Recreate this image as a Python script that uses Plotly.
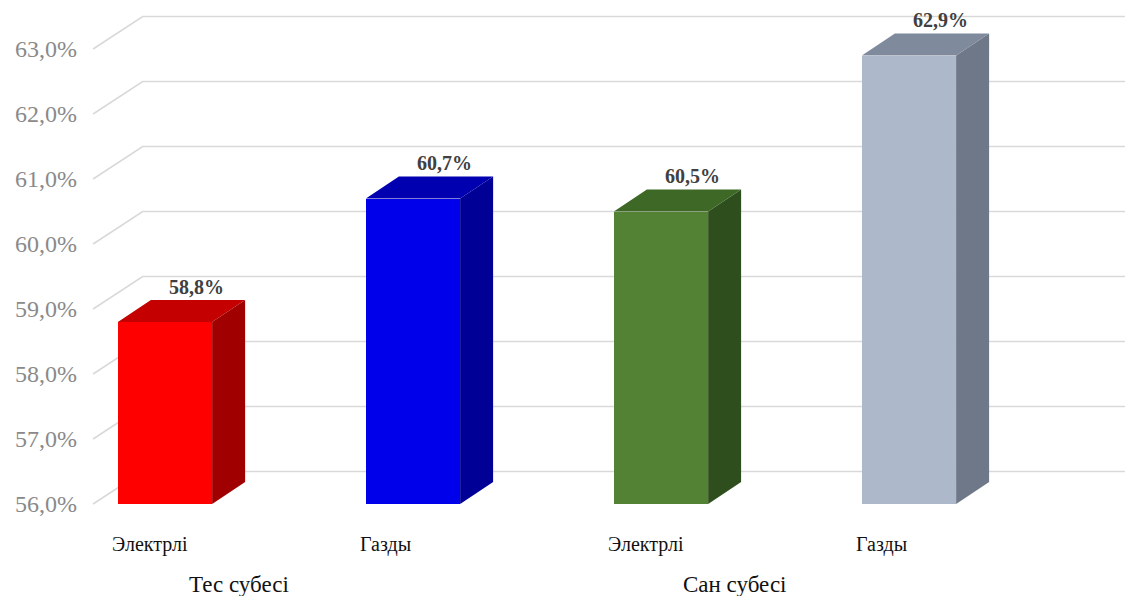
import plotly.graph_objects as go

# ---------------- data ----------------
categories = ["Электрлі", "Газды", "Электрлі", "Газды"]
groups = ["Тес субесі", "Сан субесі"]
group_index = [0, 0, 1, 1]
values = [58.8, 60.7, 60.5, 62.9]
value_labels = ["58,8%", "60,7%", "60,5%", "62,9%"]
tick_vals = [56, 57, 58, 59, 60, 61, 62, 63]
tick_text = ["56,0%", "57,0%", "58,0%", "59,0%", "60,0%", "61,0%", "62,0%", "63,0%"]

# ---------------- styles ----------------
front_colors = ["#FF0000", "#0000EA", "#548235", "#ADB9CA"]
top_colors = ["#C40000", "#0000B0", "#3D6826", "#7F8A9C"]
side_colors = ["#A00000", "#000096", "#2E4E1D", "#6E7888"]

BASE = 56.0
positions = list(range(len(values)))
W = 0.38               # bar width (x units)
DX, DY = 0.133, 0.34   # bar depth offset (x units, % units)
WX, WY = 0.20, 0.50    # back-wall offset
X_MIN, X_MAX = -0.3105, 3.871
Y_MIN, Y_MAX = 54.585, 63.754
SERIF = "Liberation Serif, Times New Roman, serif"

fig = go.Figure()

# gridlines (front diagonal + back wall), drawn below traces
shapes = []
x_front = -0.29
for v in tick_vals:
    shapes.append(dict(
        type="path", xref="x", yref="y", layer="below",
        path=f"M {x_front},{v} L {x_front + WX},{v + WY} L {X_MAX},{v + WY}",
        line=dict(color="#D9D9D9", width=1.6),
    ))

# front faces
fig.add_trace(go.Bar(
    x=positions, y=[v - BASE for v in values], base=BASE, width=W,
    marker=dict(color=front_colors, line=dict(width=0)),
    hoverinfo="skip", showlegend=False,
))

# side and top faces
for p, v, tc, sc in zip(positions, values, top_colors, side_colors):
    xl, xr = p - W / 2, p + W / 2
    fig.add_trace(go.Scatter(
        x=[xr, xr + DX, xr + DX, xr, xr],
        y=[BASE, BASE + DY, v + DY, v, BASE],
        fill="toself", fillcolor=sc, mode="lines", line=dict(width=0, color=sc),
        hoverinfo="skip", showlegend=False,
    ))
    fig.add_trace(go.Scatter(
        x=[xl, xl + DX, xr + DX, xr, xl],
        y=[v, v + DY, v + DY, v, v],
        fill="toself", fillcolor=tc, mode="lines", line=dict(width=0, color=tc),
        hoverinfo="skip", showlegend=False,
    ))

annotations = []
# value labels
for p, v, lab in zip(positions, values, value_labels):
    annotations.append(dict(
        x=p + DX * 0.95, y=v + DY, xref="x", yref="y", text=f"<b>{lab}</b>",
        showarrow=False, xanchor="center", yanchor="bottom", yshift=0,
        font=dict(family=SERIF, size=20, color="#404040"),
    ))
# category labels
for p, c in zip(positions, categories):
    annotations.append(dict(
        x=p - W / 2 - 0.03, y=55.38, xref="x", yref="y", text=c,
        showarrow=False, xanchor="left", yanchor="middle",
        font=dict(family=SERIF, size=20, color="#111111"),
    ))
# group labels
for gi, g in enumerate(groups):
    ps = [p for p, gidx in zip(positions, group_index) if gidx == gi]
    annotations.append(dict(
        x=sum(ps) / len(ps) - 0.2, y=54.76, xref="x", yref="y", text=g,
        showarrow=False, xanchor="center", yanchor="middle",
        font=dict(family=SERIF, size=23, color="#111111"),
    ))

fig.update_layout(
    width=1125, height=596,
    margin=dict(l=88, r=0, t=0, b=0),
    paper_bgcolor="white", plot_bgcolor="white",
    shapes=shapes, annotations=annotations,
    xaxis=dict(range=[X_MIN, X_MAX], visible=False, fixedrange=True),
    yaxis=dict(
        range=[Y_MIN, Y_MAX], tickvals=tick_vals, ticktext=tick_text,
        showgrid=False, zeroline=False, showline=False, ticks="",
        ticklabelstandoff=10,
        tickfont=dict(family=SERIF, size=24, color="#8A8A8A"),
        fixedrange=True,
    ),
    bargap=0,
)

fig.write_html("out.html")
